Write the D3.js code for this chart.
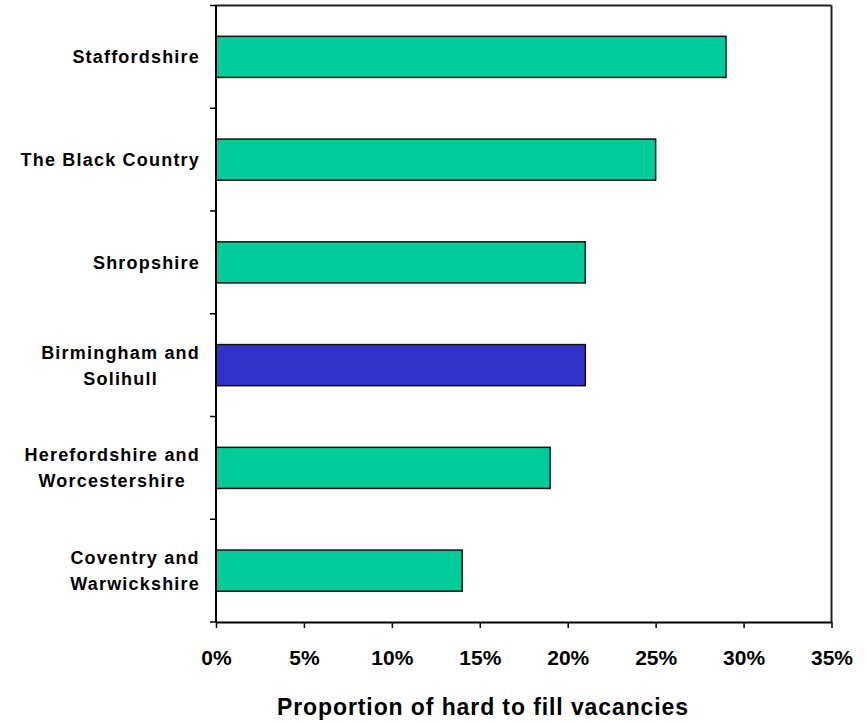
<!DOCTYPE html>
<html><head><meta charset="utf-8">
<script src="https://cdn.jsdelivr.net/npm/d3@7/dist/d3.min.js"></script>
<style>body{margin:0;background:#fff}svg{display:block}text{font-family:"Liberation Sans",Arial,sans-serif;font-weight:bold;fill:#000}</style>
</head><body><svg id="c" width="867" height="723"></svg>
<script>
const categories = [["Staffordshire"],["The Black Country"],["Shropshire"],["Birmingham and","Solihull"],["Herefordshire and","Worcestershire"],["Coventry and","Warwickshire"]];
const values = [29, 25, 21, 21, 19, 14];
const highlight = [false, false, false, true, false, false];
const xTicks = [0,5,10,15,20,25,30,35];
const xTitle = "Proportion of hard to fill vacancies";

const svg = d3.select("#c");
const L=216, R=831.5, T=5.5, B=622;
const x = d3.scaleLinear().domain([0,35]).range([L,R]);
const y = d3.scaleBand().domain(d3.range(categories.length)).range([T,B]).padding(0);
const bh = y.bandwidth()*0.4;

// bars
svg.selectAll("rect.bar").data(values).join("rect")
  .attr("x", x(0)).attr("y",(d,i)=>y(i)+y.bandwidth()/2-bh/2)
  .attr("width", d=>x(d)-x(0)).attr("height", bh)
  .attr("fill",(d,i)=>highlight[i]?"#3333CC":"#00CC99")
  .attr("stroke","#111").attr("stroke-width",1.5);

// frame
svg.append("line").attr("x1",L).attr("x2",R).attr("y1",T).attr("y2",T).attr("stroke","#222").attr("stroke-width",2);
svg.append("line").attr("x1",R).attr("x2",R).attr("y1",T).attr("y2",B).attr("stroke","#222").attr("stroke-width",2);

// x axis
const xa = svg.append("g").attr("transform",`translate(0,${B})`)
  .call(d3.axisBottom(x).tickValues(xTicks).tickFormat(d=>d+"%").tickSize(6).tickSizeOuter(0));
xa.select(".domain").attr("stroke","#000").attr("stroke-width",2);
xa.selectAll(".tick line").attr("stroke","#000").attr("stroke-width",1.5);
xa.selectAll(".tick text").attr("font-size",21).attr("dy",0).attr("y",43).style("font-family","'Liberation Sans',Arial,sans-serif").style("font-weight","bold");

// y axis ticks at band boundaries
const bounds = d3.range(categories.length+1).map(i=>T+i*y.step());
svg.append("line").attr("x1",L).attr("x2",L).attr("y1",T).attr("y2",B).attr("stroke","#000").attr("stroke-width",2);
svg.selectAll("line.yt").data(bounds).join("line").attr("class","yt")
  .attr("x1",L-6).attr("x2",L).attr("y1",d=>d).attr("y2",d=>d).attr("stroke","#000").attr("stroke-width",1.5);

// category labels
categories.forEach((lines,i)=>{
  const g = svg.append("g");
  const cy = y(i)+y.bandwidth()/2;
  const lh = 26;
  const ts = lines.map((t,j)=>g.append("text").text(t).attr("font-size",18).style("letter-spacing","1.2px")
     .attr("y", cy + (j-(lines.length-1)/2)*lh + 6.5));
  const w = d3.max(ts, t=>t.node().getComputedTextLength());
  const cx = 200 - w/2;
  ts.forEach(t=>t.attr("x",cx).attr("text-anchor","middle"));
});

svg.append("text").text(xTitle).attr("x",483).attr("y",715).attr("text-anchor","middle").attr("font-size",23).style("letter-spacing","0.9px");
</script></body></html>
